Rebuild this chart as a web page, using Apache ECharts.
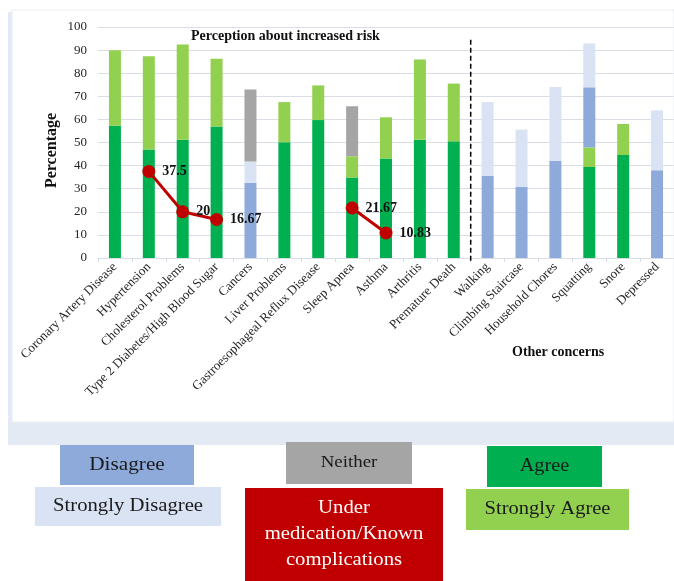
<!DOCTYPE html>
<html><head><meta charset="utf-8">
<script src="https://cdn.jsdelivr.net/npm/echarts@6/dist/echarts.min.js"></script>
<style>html,body{margin:0;padding:0;background:#fff}#c{width:674px;height:581px}</style>
</head><body><div id="c"></div>
<script>
const categories = ['Coronary Artery Disease','Hypertension','Cholesterol Problems','Type 2 Diabetes/High Blood Sugar','Cancers','Liver Problems','Gastroesophageal Reflux Disease','Sleep Apnea','Asthma','Arthritis','Premature Death','Walking','Climbing Staircase','Household Chores','Squatting','Snore','Depressed'];
const agree            = [57.3, 47.0, 51.2, 56.9, null, 50.1, 59.7, 34.8, 43.1, 51.2, 50.5, null, null, null, 39.4, 44.6, null];
const stronglyAgree    = [32.6, 40.3, 41.2, 29.4, null, 17.4, 15.0, 9.2, 17.8, 34.7, 25.0, null, null, null, 8.5, 13.4, null];
const disagree         = [null, null, null, null, 32.5, null, null, null, null, null, null, 35.6, 30.7, 42.1, 26.0, null, 38.0];
const stronglyDisagree = [null, null, null, null, 9.3, null, null, null, null, null, null, 31.9, 24.9, 31.9, 19.0, null, 25.9];
const neither          = [null, null, null, null, 31.1, null, null, 21.7, null, null, null, null, null, null, null, null, null];
const underMedication  = [null, 37.5, 20, 16.67, null, null, null, 21.67, 10.83, null, null, null, null, null, null, null, null];
const yTicks = [0, 100, 10];
const dividerPosition = 11;

const serif = '"Liberation Serif", "DejaVu Serif", serif';
const chart = echarts.init(document.getElementById('c'));

function bar(name, data, color) {
  return { name, type: 'bar', stack: 'a', data, barWidth: 12, itemStyle: { color }, xAxisIndex: 0 };
}

const legendBoxes = [
  { t: 'Disagree', x: 60, y: 445, w: 134, h: 40, c: '#8eaadb', fc: '#1a1a1a', fs: 18, sx: 1.18 },
  { t: 'Strongly Disagree', x: 35, y: 487, w: 186, h: 39, c: '#dae3f3', fc: '#1a1a1a', fs: 18, sx: 1.15 },
  { t: 'Neither', x: 286, y: 442, w: 126, h: 42, c: '#a5a5a5', fc: '#1a1a1a', fs: 16, sx: 1.18 },
  { t: 'Agree', x: 487, y: 446, w: 115, h: 41, c: '#00b050', fc: '#1a1a1a', fs: 18, sx: 1.13 },
  { t: 'Strongly Agree', x: 466, y: 489, w: 163, h: 41, c: '#92d050', fc: '#1a1a1a', fs: 18, sx: 1.14 },
  { t: 'Under\nmedication/Known\ncomplications', x: 245, y: 488, w: 198, h: 93, c: '#c00000', fc: '#ffffff', fs: 19, sx: 1.09 }
];
const graphics = [
  { type: 'rect', z: -10, shape: { x: 8, y: 12, width: 666, height: 433 }, style: { fill: '#e4eaf4' } },
  { type: 'rect', z: -9, shape: { x: 12, y: 10, width: 662, height: 412 }, style: { fill: '#ffffff', stroke: '#e9ecf1', lineWidth: 1 } },
  { type: 'text', left: 191, top: 29, style: { text: 'Perception about increased risk', font: 'bold 14px ' + serif, fill: '#111' } },
  { type: 'text', left: 512, top: 345, style: { text: 'Other concerns', font: 'bold 14px ' + serif, fill: '#111' } }
];
legendBoxes.forEach(b => {
  graphics.push({ type: 'rect', shape: { x: b.x, y: b.y, width: b.w, height: b.h }, style: { fill: b.c } });
  graphics.push({ type: 'text', x: b.x + b.w / 2, y: b.y + b.h / 2, scaleX: b.sx,
    style: { text: b.t, font: b.fs + 'px ' + serif, fill: b.fc, align: 'center', verticalAlign: 'middle', lineHeight: 26 } });
});

chart.setOption({
  animation: false,
  backgroundColor: '#ffffff',
  graphic: graphics,
  grid: { left: 98, right: 0, top: 27, bottom: 323, containLabel: false },
  xAxis: [
    { type: 'category', data: categories, axisLine: { lineStyle: { color: '#d9dde5' } },
      axisTick: { show: true, length: 4, lineStyle: { color: '#d9dde5' } },
      axisLabel: { rotate: 45, margin: 7, interval: 0, fontFamily: serif, fontSize: 13, color: '#262626' } },
    { type: 'value', min: 0, max: categories.length, show: false }
  ],
  yAxis: {
    type: 'value', min: yTicks[0], max: yTicks[1], interval: yTicks[2],
    name: 'Percentage', nameLocation: 'middle', nameGap: 38, nameMoveOverlap: false,
    nameTextStyle: { fontFamily: serif, fontSize: 16, fontWeight: 'bold', color: '#111', padding: [0, 16, 0, 0] },
    axisLine: { show: false }, axisTick: { show: false },
    axisLabel: { margin: 11, fontFamily: serif, fontSize: 13, color: '#262626' },
    splitLine: { lineStyle: { color: '#d9dde5', width: 1 } }
  },
  series: [
    bar('Agree', agree, '#00b050'),
    bar('Strongly Agree', stronglyAgree, '#92d050'),
    bar('Disagree', disagree, '#8eaadb'),
    bar('Strongly Disagree', stronglyDisagree, '#dae3f3'),
    bar('Neither', neither, '#a5a5a5'),
    { name: 'Under medication/Known complications', type: 'line', data: underMedication, connectNulls: false,
      symbol: 'circle', symbolSize: 13, z: 5,
      lineStyle: { color: '#c00000', width: 3 }, itemStyle: { color: '#c00000' },
      label: { show: true, position: 'right', distance: 7, fontFamily: serif, fontSize: 14, fontWeight: 'bold', color: '#111' } },
    { name: 'divider', type: 'line', xAxisIndex: 1, data: [[dividerPosition, 94.5], [dividerPosition, -2]],
      symbol: 'none', clip: false, z: 6, lineStyle: { color: '#000', width: 1.5, type: [5, 3] } }
  ]
});
</script></body></html>
